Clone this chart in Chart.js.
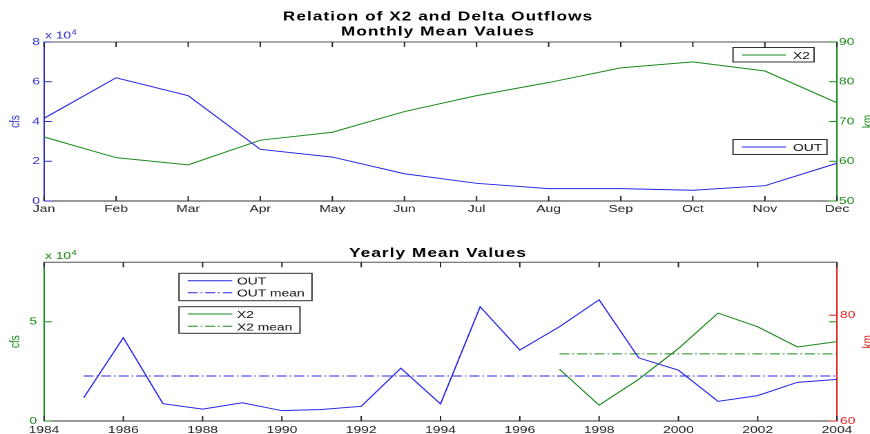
<!DOCTYPE html>
<html>
<head>
<meta charset="utf-8">
<script src="https://cdn.jsdelivr.net/npm/chart.js@4.4.1/dist/chart.umd.min.js"></script>
<style>
html, body { margin: 0; padding: 0; background: #fff; }
#wrap { position: relative; width: 870px; height: 434px; overflow: hidden; }
canvas { position: absolute; left: 0; }
</style>
</head>
<body>
<div id="wrap">
  <canvas id="monthly" width="630" height="217" style="top:0;width:870px;height:217px"></canvas>
  <canvas id="yearly" width="630" height="217" style="top:217px;width:870px;height:217px"></canvas>
</div>
<script>
// monthly means
const months = ['Jan', 'Feb', 'Mar', 'Apr', 'May', 'Jun', 'Jul', 'Aug', 'Sep', 'Oct', 'Nov', 'Dec'];
const outMonthly = [41600, 62000, 53000, 26000, 22100, 13700, 8900, 6200, 6200, 5400, 7700, 19000];
const x2Monthly = [66.1, 60.9, 59.1, 65.3, 67.3, 72.5, 76.5, 79.8, 83.5, 85.0, 82.7, 74.7];

// yearly means
const years = [1985, 1986, 1987, 1988, 1989, 1990, 1991, 1992, 1993, 1994,
               1995, 1996, 1997, 1998, 1999, 2000, 2001, 2002, 2003, 2004];
const outYearly = [11700, 42000, 8700, 6000, 9200, 5200, 5800, 7400, 26600, 8600,
                   57600, 35800, 47500, 61100, 31800, 25600, 9900, 12800, 19500, 21000];
const x2Years = [1997, 1998, 1999, 2000, 2001, 2002, 2003, 2004];
const x2Yearly = [69.8, 63.0, 67.9, 73.7, 80.4, 77.8, 74.0, 75.0];
const outMean = 22700;
const x2Mean = 72.7;

// tick labels
const monthlyCfsTicks = [0, 20000, 40000, 60000, 80000];
const monthlyKmTicks = [50, 60, 70, 80, 90];
const yearlyCfsTicks = [0, 50000];
const yearlyKmTicks = [60, 80];

// the picture is stretched sideways, so the canvas is drawn narrow and widened by css
const SX = 870 / 630;
const px = v => v / SX;

const BLUE = '#2626e6';
const GREEN = '#1c8a1c';
const RED = '#e01c1c';
const FONT = "'Liberation Sans', Arial, sans-serif";
const DASHDOT = [7.2, 2.2, 1.1, 2.2];

function line(ctx, x1, y1, x2, y2) {
    ctx.beginPath();
    ctx.moveTo(x1, y1);
    ctx.lineTo(x2, y2);
    ctx.stroke();
}

function setTicks(values) {
    return scale => { scale.ticks = values.map(v => ({ value: v })); };
}

const deco = {
    id: 'deco',
    afterDraw(chart, args, opts) {
        const ctx = chart.ctx;
        const a = chart.chartArea;
        ctx.save();
        ctx.lineWidth = 1;
        ctx.setLineDash([]);

        // box top
        ctx.strokeStyle = '#555';
        line(ctx, a.left, a.top, a.right, a.top);

        // inward x ticks
        const xs = chart.scales.x;
        ctx.strokeStyle = '#222';
        xs.ticks.forEach((t, i) => {
            const x = xs.getPixelForTick(i);
            line(ctx, x, a.top, x, a.top + 5);
            line(ctx, x, a.bottom, x, a.bottom - 5);
        });

        // inward y ticks
        opts.yTicks.forEach(yt => {
            const s = chart.scales[yt.id];
            ctx.strokeStyle = yt.color;
            s.ticks.forEach((t, i) => {
                const y = s.getPixelForTick(i);
                if (yt.side === 'left') line(ctx, a.left, y, a.left + px(8), y);
                else line(ctx, a.right, y, a.right - px(8), y);
            });
        });

        // titles
        ctx.fillStyle = '#000';
        ctx.textAlign = 'center';
        ctx.textBaseline = 'alphabetic';
        ctx.font = 'bold 12.5px ' + FONT;
        ctx.letterSpacing = '0.75px';
        opts.titles.forEach(t => ctx.fillText(t.text, px(438), t.y));
        ctx.letterSpacing = '0px';

        // x 10^4
        ctx.textAlign = 'left';
        ctx.fillStyle = opts.expColor;
        ctx.font = '10px ' + FONT;
        ctx.fillText('x 10', px(45), opts.expY);
        ctx.font = '7px ' + FONT;
        ctx.fillText('4', px(71.5), opts.expY - 4);

        // axis labels
        ctx.font = '10px ' + FONT;
        ctx.textAlign = 'center';
        ctx.textBaseline = 'middle';
        const mid = (a.top + a.bottom) / 2;
        [[px(15.5), opts.leftLabelColor, 'cfs'], [px(868), opts.rightLabelColor, 'km']].forEach(([x, c, txt]) => {
            ctx.save();
            ctx.translate(x, mid);
            ctx.rotate(-Math.PI / 2);
            ctx.fillStyle = c;
            ctx.fillText(txt, 0, 0);
            ctx.restore();
        });

        // legend boxes
        ctx.textAlign = 'left';
        ctx.textBaseline = 'alphabetic';
        opts.legends.forEach(lg => {
            const [x1, y1, x2, y2] = lg.box;
            ctx.fillStyle = '#fff';
            ctx.fillRect(px(x1), y1, px(x2 - x1), y2 - y1);
            ctx.strokeStyle = '#333';
            ctx.setLineDash([]);
            ctx.strokeRect(px(x1), y1, px(x2 - x1), y2 - y1);
            lg.items.forEach(it => {
                ctx.strokeStyle = it.color;
                ctx.setLineDash(it.dash || []);
                line(ctx, px(lg.from), it.y, px(lg.to), it.y);
                ctx.setLineDash([]);
                ctx.fillStyle = '#111';
                ctx.font = '10px ' + FONT;
                ctx.fillText(it.text, px(lg.textX), it.y + 4);
            });
        });
        ctx.restore();
    }
};

let monthlyChart = new Chart(document.getElementById('monthly'), {
    type: 'line',
    data: {
        labels: months,
        datasets: [{
            label: 'OUT',
            data: outMonthly,
            yAxisID: 'y',
            borderColor: BLUE,
            borderWidth: 1,
            pointRadius: 0,
            tension: 0
        }, {
            label: 'X2',
            data: x2Monthly,
            yAxisID: 'y1',
            borderColor: GREEN,
            borderWidth: 1,
            pointRadius: 0,
            tension: 0
        }]
    },
    options: {
        responsive: false,
        animation: false,
        devicePixelRatio: 2,
        layout: { padding: { top: 42, left: 0, right: 0, bottom: 0 } },
        plugins: {
            legend: { display: false },
            tooltip: { enabled: false },
            deco: {
                titles: [
                    { text: 'Relation of X2 and Delta Outflows', y: 20.7 },
                    { text: 'Monthly Mean Values', y: 35.3 }
                ],
                expY: 38.5,
                expColor: '#3434c8',
                leftLabelColor: '#3434c8',
                rightLabelColor: GREEN,
                yTicks: [
                    { id: 'y', side: 'left', color: '#3030c8' },
                    { id: 'y1', side: 'right', color: GREEN }
                ],
                legends: [{
                    box: [733, 47.5, 814, 62],
                    from: 742, to: 786, textX: 793,
                    items: [{ text: 'X2', color: GREEN, y: 55 }]
                }, {
                    box: [733, 139.5, 827, 154.5],
                    from: 742, to: 786, textX: 793,
                    items: [{ text: 'OUT', color: BLUE, y: 147 }]
                }]
            }
        },
        scales: {
            x: {
                grid: { drawOnChartArea: false, drawTicks: false },
                border: { color: '#333' },
                ticks: {
                    color: '#222',
                    padding: 2,
                    autoSkip: false,
                    maxRotation: 0,
                    font: { family: FONT, size: 10 }
                },
                afterFit: s => { s.height = 16; }
            },
            y: {
                position: 'left',
                min: 0,
                max: 80000,
                afterBuildTicks: setTicks(monthlyCfsTicks),
                grid: { drawOnChartArea: false, drawTicks: false },
                border: { color: '#3030c8' },
                ticks: {
                    color: '#3434c8',
                    padding: px(4),
                    callback: v => v / 10000,
                    font: { family: FONT, size: 10 }
                },
                afterFit: s => { s.width = px(44); }
            },
            y1: {
                position: 'right',
                min: 50,
                max: 90,
                afterBuildTicks: setTicks(monthlyKmTicks),
                grid: { drawOnChartArea: false, drawTicks: false },
                border: { color: GREEN },
                ticks: {
                    color: GREEN,
                    padding: px(2),
                    font: { family: FONT, size: 10 }
                },
                afterFit: s => { s.width = px(33); }
            }
        }
    },
    plugins: [deco]
});

let yearlyChart = new Chart(document.getElementById('yearly'), {
    type: 'line',
    data: {
        datasets: [{
            label: 'OUT',
            data: years.map((yr, i) => ({ x: yr, y: outYearly[i] })),
            yAxisID: 'y',
            borderColor: BLUE,
            borderWidth: 1,
            pointRadius: 0,
            tension: 0
        }, {
            label: 'OUT mean',
            data: [{ x: years[0], y: outMean }, { x: years[years.length - 1], y: outMean }],
            yAxisID: 'y',
            borderColor: BLUE,
            borderWidth: 1,
            borderDash: DASHDOT,
            pointRadius: 0
        }, {
            label: 'X2',
            data: x2Years.map((yr, i) => ({ x: yr, y: x2Yearly[i] })),
            yAxisID: 'y1',
            borderColor: GREEN,
            borderWidth: 1,
            pointRadius: 0,
            tension: 0
        }, {
            label: 'X2 mean',
            data: [{ x: x2Years[0], y: x2Mean }, { x: x2Years[x2Years.length - 1], y: x2Mean }],
            yAxisID: 'y1',
            borderColor: GREEN,
            borderWidth: 1,
            borderDash: DASHDOT,
            pointRadius: 0
        }]
    },
    options: {
        responsive: false,
        animation: false,
        devicePixelRatio: 2,
        layout: { padding: { top: 45.3, left: 0, right: 0, bottom: 0 } },
        plugins: {
            legend: { display: false },
            tooltip: { enabled: false },
            deco: {
                titles: [{ text: 'Yearly Mean Values', y: 40 }],
                expY: 42,
                expColor: GREEN,
                leftLabelColor: GREEN,
                rightLabelColor: RED,
                yTicks: [
                    { id: 'y', side: 'left', color: GREEN },
                    { id: 'y', side: 'right', color: GREEN },
                    { id: 'y1', side: 'right', color: RED }
                ],
                legends: [{
                    box: [179, 273.3 - 217, 312, 300.7 - 217],
                    from: 187.7, to: 232.3, textX: 237,
                    items: [
                        { text: 'OUT', color: BLUE, y: 280.7 - 217 },
                        { text: 'OUT mean', color: BLUE, y: 292.7 - 217, dash: DASHDOT }
                    ]
                }, {
                    box: [179, 306.7 - 217, 300, 333.3 - 217],
                    from: 187.7, to: 232.3, textX: 237,
                    items: [
                        { text: 'X2', color: GREEN, y: 314 - 217 },
                        { text: 'X2 mean', color: GREEN, y: 326.3 - 217, dash: DASHDOT }
                    ]
                }]
            }
        },
        scales: {
            x: {
                type: 'linear',
                min: 1984,
                max: 2004,
                grid: { drawOnChartArea: false, drawTicks: false },
                border: { color: '#333' },
                ticks: {
                    stepSize: 2,
                    color: '#222',
                    padding: 3,
                    maxRotation: 0,
                    callback: v => String(v),
                    font: { family: FONT, size: 10 }
                },
                afterFit: s => { s.height = 13; }
            },
            y: {
                position: 'left',
                min: 0,
                max: 80000,
                afterBuildTicks: setTicks(yearlyCfsTicks),
                grid: { drawOnChartArea: false, drawTicks: false },
                border: { color: GREEN },
                ticks: {
                    color: GREEN,
                    padding: px(7),
                    callback: v => v / 10000,
                    font: { family: FONT, size: 10 }
                },
                afterFit: s => { s.width = px(44); }
            },
            y1: {
                position: 'right',
                min: 60,
                max: 90,
                afterBuildTicks: setTicks(yearlyKmTicks),
                grid: { drawOnChartArea: false, drawTicks: false },
                border: { color: RED },
                ticks: {
                    color: RED,
                    padding: px(3),
                    font: { family: FONT, size: 10 }
                },
                afterFit: s => { s.width = px(33); }
            }
        }
    },
    plugins: [deco]
});
</script>
</body>
</html>
